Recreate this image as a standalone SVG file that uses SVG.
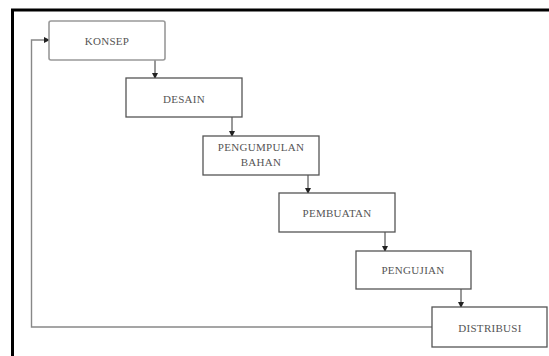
<svg xmlns="http://www.w3.org/2000/svg" width="549" height="356" viewBox="0 0 549 356">
<style>
.box{fill:#fff;stroke:#555;stroke-width:1.3}
.box1{fill:#fff;stroke:#999;stroke-width:1.6}
.lbl{font-family:"Liberation Serif",serif;font-size:11px;letter-spacing:0.3px;fill:#555;text-anchor:middle}
.con{fill:none;stroke:#333;stroke-width:1}
.fb{fill:none;stroke:#888;stroke-width:1.4}
</style>
<defs>
<marker id="ah" markerWidth="6" markerHeight="6" refX="5" refY="3" orient="auto" markerUnits="userSpaceOnUse">
<path d="M0,0 L6,3 L0,6 Z" fill="#222"/>
</marker>
</defs>
<rect width="549" height="356" fill="#fff"/>
<path d="M12.5,356 V10 H549" fill="none" stroke="#000" stroke-width="3"/>
<g id="connectors">
<path class="con" d="M155,60 V78" marker-end="url(#ah)"/>
<path class="con" d="M232,117 V136" marker-end="url(#ah)"/>
<path class="con" d="M308,175 V193" marker-end="url(#ah)"/>
<path class="con" d="M385,232 V251" marker-end="url(#ah)"/>
<path class="con" d="M461,289 V307" marker-end="url(#ah)"/>
<path class="fb" d="M432,327 H31.5 V40 H49" marker-end="url(#ah)"/>
</g>
<g id="konsep"><rect class="box1" x="49" y="21" width="116" height="39" rx="2"/><text class="lbl" x="107" y="45">KONSEP</text></g>
<g id="desain"><rect class="box" x="126" y="78" width="116" height="39"/><text class="lbl" x="184" y="103">DESAIN</text></g>
<g id="pengumpulan"><rect class="box" x="203" y="136" width="116" height="39"/><text class="lbl" x="261" y="151">PENGUMPULAN</text><text class="lbl" x="261" y="165.5">BAHAN</text></g>
<g id="pembuatan"><rect class="box" x="279" y="193" width="116" height="39"/><text class="lbl" x="337" y="216.5">PEMBUATAN</text></g>
<g id="pengujian"><rect class="box" x="356" y="251" width="115" height="38"/><text class="lbl" x="413" y="274">PENGUJIAN</text></g>
<g id="distribusi"><rect class="box" x="432" y="307" width="115" height="40"/><text class="lbl" x="490" y="331.5">DISTRIBUSI</text></g>
</svg>
